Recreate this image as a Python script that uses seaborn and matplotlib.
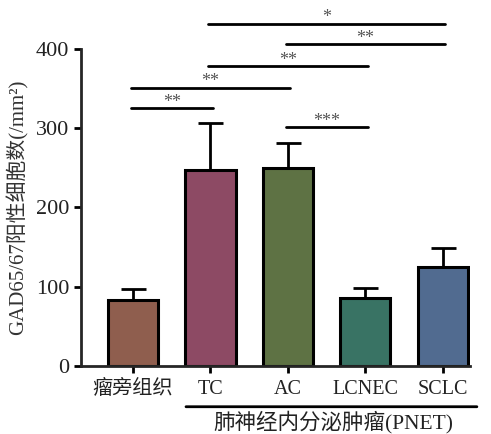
import matplotlib
matplotlib.use("Agg")
import matplotlib.pyplot as plt
import seaborn as sns
import pandas as pd

# data
groups = ["瘤旁组织", "TC", "AC", "LCNEC", "SCLC"]
means = [83, 247, 250, 86, 125]
errors = [14, 60, 32, 12, 24]
colors = ["#9a5843", "#983f62", "#5f7a3c", "#2f7d68", "#46699b"]

# significance brackets: (left group, right group, height, label)
sig_left = [0, 0, 2, 1, 2, 1]
sig_right = [1, 2, 3, 3, 4, 4]
sig_height = [325, 351, 301, 378, 406, 432]
sig_label = ["**", "**", "***", "**", "**", "*"]

sns.set_style("ticks")
plt.rcParams['font.family'] = ['Liberation Serif', 'Noto Sans CJK SC']

df = pd.DataFrame({"group": groups, "value": means})

fig = plt.figure(figsize=(4.91, 4.34), dpi=100)
ax = fig.add_axes([0.165, 0.157, 0.792, 0.73])

sns.barplot(data=df, x="group", y="value", hue="group", palette=colors,
            width=0.65, edgecolor="black", linewidth=2.2, errorbar=None,
            legend=False, ax=ax, zorder=2)

ax.errorbar(range(len(groups)), means, yerr=[[0] * len(groups), errors],
            fmt="none", ecolor="black", elinewidth=2, capsize=9, capthick=2,
            zorder=1)

for l, r, h, s in zip(sig_left, sig_right, sig_height, sig_label):
    ax.plot([l - 0.03, r + 0.03], [h, h], color="black", lw=2, clip_on=False)
    ax.text((l + r) / 2, h - 3, s, ha="center", va="bottom", fontsize=13,
            color="#555555", clip_on=False)

ax.set_ylim(0, 400)
ax.set_xlim(-0.67, 4.35)
ax.set_yticks([0, 100, 200, 300, 400])
ax.set_xlabel("")
ax.set_ylabel("GAD65/67阳性细胞数(/mm²)", fontsize=15, color="#333333",
              labelpad=5)
ax.tick_params(axis="both", width=2, length=5, colors="black")
ax.tick_params(axis="y", labelcolor="#222222", labelsize=16)
ax.tick_params(axis="x", labelcolor="#222222", labelsize=14.5, pad=5)
sns.despine(ax=ax)
for sp in ["left", "bottom"]:
    ax.spines[sp].set_linewidth(2)

# group bracket under PNET subtypes
ax.annotate("", xy=(0.27, -0.129), xytext=(1.018, -0.129),
            xycoords="axes fraction",
            arrowprops=dict(arrowstyle="-", lw=2, color="black",
                            shrinkA=0, shrinkB=0))
ax.text(0.65, -0.14, "肺神经内分泌肿瘤(PNET)", transform=ax.transAxes,
        ha="center", va="top", fontsize=15.5, color="#222222")

fig.savefig("out.png", dpi=100)
